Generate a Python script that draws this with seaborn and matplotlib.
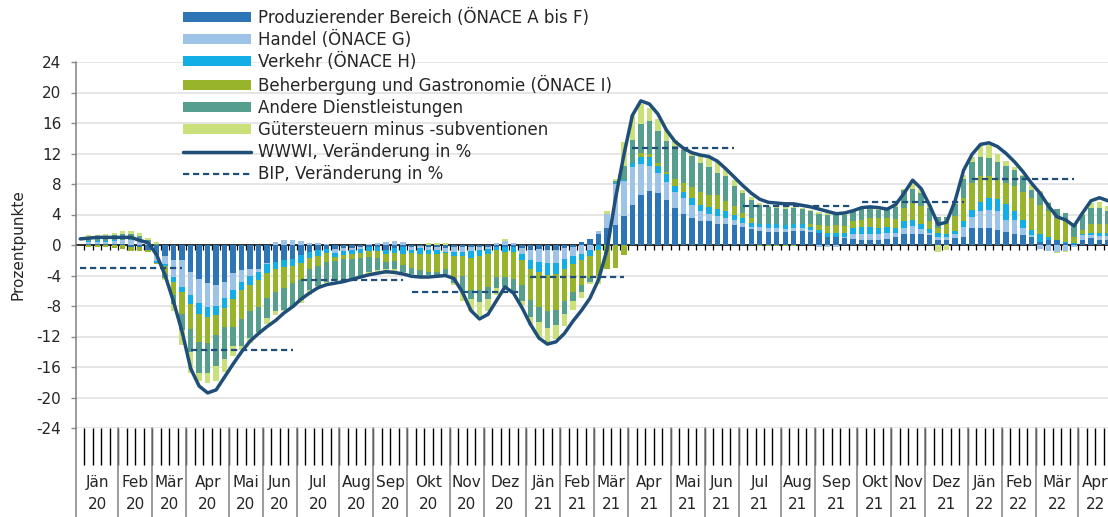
import numpy as np
import pandas as pd
import seaborn as sns
import matplotlib.pyplot as plt
from matplotlib.patches import Patch
from matplotlib.lines import Line2D
import matplotlib.transforms as mtransforms

# ---------------------------------------------------------
# Daten: Wochenwerte (Jän 2020 - Apr 2022), Beiträge in Prozentpunkten
# ---------------------------------------------------------
first_week = '2020-01-02'   # Donnerstag der 1. KW 2020
n_weeks = 122
month_names = ['Jän', 'Feb', 'Mär', 'Apr', 'Mai', 'Jun',
               'Jul', 'Aug', 'Sep', 'Okt', 'Nov', 'Dez']

prod = [0, 0.1, 0.1, 0.1, 0.15, 0.1, -0.2, -0.3, -0.6, -1.3,
        -1.5, -2.0, -2.0, -3.5, -4.4, -5.0, -5.2, -4.8, -3.7, -3.3,
        -3.1, -3.1, -2.4, -2.2, -2.0, -1.8, -1.3, -0.9, -0.7, -0.5,
        -0.5, -0.4, -0.4, -0.3, -0.3, -0.2, -0.6, -0.4, -0.3, -0.2,
        -0.1, -0.2, -0.3, -0.4, -0.3, -0.2, -0.3, -0.2, -0.2, -0.2,
        -0.3, -0.3, -0.4, -0.6, -0.5, -0.6, -0.6, -0.4, -0.2, 0.4,
        0.8, 1.5, 2.2, 2.6, 3.8, 5.2, 6.6, 7.1, 6.8, 5.9,
        4.9, 4.1, 3.5, 3.1, 3.1, 2.8, 2.7, 2.6, 2.4, 2.1,
        1.9, 1.7, 1.7, 1.7, 1.8, 1.9, 1.7, 1.6, 1.1, 1.0,
        0.9, 0.8, 0.7, 0.7, 0.7, 0.8, 1.0, 1.4, 1.4, 1.4,
        1.3, 0.7, 0.6, 0.9, 1.1, 2.2, 2.2, 2.2, 2.0, 1.7,
        1.5, 1.3, 1.1, 0.4, 0.7, 0.6, 0.3, 0.1, 0.7, 0.9,
        0.7, 0.7]

handel = [0, 0.3, 0.3, 0.35, 0.4, 0.5, 0.6, 0.5, 0.4, -0.8,
          -1.0, -2.2, -3.5, -3.1, -3.2, -3.1, -2.8, -2.2, -2.2, -1.5,
          -1.0, -0.4, -0.1, 0.4, 0.6, 0.6, 0.5, 0.3, 0.2, 0.1,
          -0.5, -0.4, -0.3, -0.2, 0.1, 0.3, 0.4, 0.5, 0.4, -0.4,
          -0.3, -0.4, -0.4, -0.5, -0.6, -0.7, -0.5, -0.4, -0.3, 0.3,
          0.5, 0.3, -0.8, -1.4, -1.7, -1.8, -1.8, -1.5, -1.3, -1.2,
          -0.6, 0.3, 1.9, 5.4, 4.6, 5.0, 4.0, 3.2, 2.6, 2.4,
          2.0, 2.0, 1.7, 1.3, 1.0, 1.0, 0.8, 0.7, 0.5, 0.3,
          0.5, 0.5, 0.5, 0.4, 0.4, 0.3, 0.3, -0.2, -0.2, -0.3,
          0.2, 0.7, 0.8, 0.8, 0.7, 0.8, 0.6, 0.8, 1.1, 0.7,
          0.3, 0.4, 0.4, 0.5, 1.2, 1.5, 2.2, 2.4, 2.4, 1.6,
          1.8, 0.9, 0.2, -0.5, -0.8, -0.9, -0.8, -0.2, 0.6, 0.4,
          0.5, 0.5]

verkehr = [0, 0.1, 0.1, 0.1, 0.1, 0.1, 0.1, 0.1, -0.1, -0.2,
           -0.3, -0.6, -0.6, -1.1, -1.4, -1.3, -1.2, -1.3, -1.2, -1.1,
           -1.1, -1.1, -1.2, -1.0, -0.9, -1.0, -1.1, -0.8, -0.7, -0.6,
           -0.6, -0.5, -0.5, -0.5, -0.5, -0.6, -0.6, -0.6, -0.9, -0.5,
           -0.8, -0.6, -0.5, -0.2, -0.6, -0.6, -0.9, -0.8, -0.7, -0.5,
           -0.6, -0.6, -0.8, -1.1, -1.3, -1.5, -1.4, -1.2, -1.0, -0.8,
           -0.9, -0.6, 0.0, 0.1, 0.1, 0.5, 0.9, 1.2, 1.0, 1.0,
           0.9, 0.9, 1.0, 0.8, 0.9, 0.9, 0.9, 0.6, 0.7, 0.5,
           0.4, 0.6, 0.5, 0.5, 0.5, 0.5, 0.4, 0.4, 0.5, 0.6,
           0.5, 0.7, 0.9, 0.9, 0.8, 0.7, 0.6, 0.9, 0.8, 0.7,
           0.5, 0.5, 0.5, 0.4, 0.8, 0.9, 1.3, 1.6, 1.6, 2.1,
           1.1, 1.1, 0.7, 1.0, 0.4, 0.1, 0.1, 0.1, 0.2, 0.3,
           0.4, 0.4]

beherbergung = [0, -0.3, -0.3, -0.3, -0.4, -0.5, -0.6, -0.5, -0.2, -0.2,
                -1.0, -1.8, -2.9, -3.3, -3.7, -3.4, -2.6, -2.4, -3.6, -3.8,
                -3.5, -3.5, -3.3, -2.9, -2.8, -2.2, -2.2, -1.5, -1.4, -1.1,
                -0.5, -0.6, -0.6, -0.7, -0.8, -0.9, -1.0, -1.1, -1.4, -1.9,
                -2.1, -2.3, -2.3, -2.1, -3.0, -2.6, -4.2, -4.5, -4.3, -3.5,
                -3.3, -3.5, -3.3, -4.1, -4.6, -4.8, -4.7, -4.2, -3.6, -3.2,
                -2.8, -3.5, -3.1, -3.0, -1.3, 0.1, 0.6, 0.5, 0.3, 0.3,
                0.9, 1.1, 1.4, 1.8, 1.6, 1.9, 1.4, 1.2, 0.6, 0.6,
                -0.1, -0.1, -0.1, -0.1, -0.1, 0.0, 0.4, 0.6, 0.9, 1.0,
                0.9, 1.0, 0.9, 1.1, 1.4, 1.2, 1.2, 1.7, 2.2, 2.3,
                1.0, 0.6, 1.8, 2.0, 3.0, 3.5, 3.3, 2.8, 2.5, 2.7,
                3.3, 3.7, 4.1, 3.8, 3.4, 2.8, 3.0, 0.8, 0.5, 1.2,
                1.2, 1.1]

andere = [0, 0.5, 0.5, 0.55, 0.6, 0.7, 0.8, 0.6, 0.2, 0.1,
          -0.5, -1.2, -2.1, -3.0, -4.1, -4.0, -4.1, -4.3, -2.6, -3.6,
          -3.5, -3.3, -2.6, -2.6, -2.8, -3.1, -2.6, -2.7, -2.6, -2.6,
          -2.5, -2.5, -2.5, -2.3, -2.0, -1.6, -1.0, -1.0, -1.0, -0.8,
          -0.7, -0.4, -0.4, -0.6, -0.5, -2.0, -1.2, -1.6, -1.6, -1.4,
          -1.3, -1.6, -2.0, -2.2, -2.0, -2.2, -2.0, -1.7, -1.3, -1.0,
          -0.5, 0.0, 0.0, 0.3, 1.9, 3.0, 3.8, 4.2, 4.2, 4.0,
          4.3, 4.3, 4.1, 3.7, 3.6, 2.8, 3.2, 2.6, 2.6, 2.4,
          2.4, 2.2, 2.1, 2.1, 2.1, 2.0, 1.6, 1.5, 1.5, 1.3,
          1.4, 1.2, 1.5, 1.3, 1.0, 1.2, 1.6, 2.4, 1.9, 1.7,
          1.8, 1.5, 0.4, 1.6, 2.6, 2.8, 2.6, 2.4, 2.4, 2.2,
          2.1, 2.0, 1.1, 1.6, 1.0, 1.2, 0.8, 1.6, 2.0, 2.0,
          2.0, 1.8]

guter = [0, 0.3, 0.35, 0.35, 0.35, 0.4, 0.4, 0.4, 0.3, 0.35,
         -0.3, -0.8, -2.0, -2.8, -1.1, -1.3, -2.0, -1.6, -1.3, -0.5,
         -0.7, -0.4, -0.7, -0.5, -0.2, -0.2, -0.4, -0.7, -0.1, -0.2,
         -0.1, -0.1, -0.1, -0.1, -0.2, -0.4, -0.6, -0.5, -0.3, -0.1,
         0.0, 0.3, 0.3, 0.2, -0.2, -1.2, -1.5, -1.8, -1.6, -0.9,
         0.3, -0.3, -0.6, -1.1, -1.9, -2.0, -1.8, -1.6, -1.1, -0.8,
         -0.3, -1.0, 0.3, 0.3, 3.1, 3.2, 2.6, 1.8, 1.6, 1.5,
         0.8, 0.5, 0.5, 1.1, 1.2, 1.5, 1.0, 0.8, 0.4, 0.4,
         0.3, 0.1, 0.2, 0.3, 0.2, 0.2, 0.2, 0.2, 0.2, 0.2,
         0.3, 0.2, 0.2, 0.1, 0.3, 0.2, 0.3, 0.2, 1.1, 0.6,
         0.3, -0.9, -0.7, 0.4, 0.5, 0.7, 1.5, 1.7, 1.1, 0.7,
         0.4, 0.2, 0.7, 0.3, 0.2, -0.2, -0.1, 0.2, 0.2, 0.7,
         0.9, 0.6]

wwwi = [0.8, 0.9, 1.0, 1.0, 1.0, 1.0, 1.0, 0.6, 0.3, -1.3,
        -4.0, -7.5, -11.4, -16.2, -18.5, -19.4, -19.0, -17.3, -15.6, -14.0,
        -12.6, -11.6, -10.7, -9.9, -8.9, -8.1, -7.1, -6.3, -5.6, -5.2,
        -5.0, -4.8, -4.5, -4.2, -3.9, -3.7, -3.5, -3.6, -3.8, -4.1,
        -4.2, -4.2, -4.1, -4.0, -4.4, -6.2, -8.6, -9.7, -9.1, -7.3,
        -5.5, -6.3, -8.2, -10.4, -12.2, -13.0, -12.7, -11.6, -10.0, -8.6,
        -7.0, -4.6, -0.7, 6.0, 11.8, 17.0, 18.9, 18.5, 17.2, 15.1,
        13.6, 12.7, 12.1, 11.8, 11.6, 11.0, 10.0, 8.9, 7.8, 6.8,
        6.0, 5.6, 5.5, 5.4, 5.4, 5.2, 5.0, 4.7, 4.4, 4.1,
        4.2, 4.5, 4.9, 5.0, 4.9, 4.7, 5.3, 6.8, 8.5, 7.4,
        5.2, 2.7, 3.0, 5.8, 9.8, 11.9, 13.2, 13.4, 12.9, 12.0,
        10.9, 9.6, 8.1, 6.8, 5.1, 3.7, 3.3, 2.5, 4.2, 5.8,
        6.2, 5.8]

bip_quarters = ['2020Q1', '2020Q2', '2020Q3', '2020Q4', '2021Q1',
                '2021Q2', '2021Q3', '2021Q4', '2022Q1']
bip_values = [-3.0, -13.8, -4.6, -6.1, -4.2, 12.7, 5.1, 5.6, 8.7]

series_names = ['Produzierender Bereich (ÖNACE A bis F)', 'Handel (ÖNACE G)',
                'Verkehr (ÖNACE H)', 'Beherbergung und Gastronomie (ÖNACE I)',
                'Andere Dienstleistungen', 'Gütersteuern minus -subventionen']
series_colors = ['#2E75B6', '#9DC3E6', '#13AEE6', '#97B42B', '#569E8D', '#C9E07B']
line_color = '#1F4E79'

# ---------------------------------------------------------
# Aufbereitung
# ---------------------------------------------------------
weeks = pd.date_range(first_week, periods=n_weeks, freq='7D')
idx = np.arange(n_weeks)
df = pd.DataFrame({'idx': idx, 'date': weeks, 'wwwi': wwwi})
df['quarter'] = weeks.to_period('Q').astype(str)
df['bip'] = df['quarter'].map(dict(zip(bip_quarters, bip_values)))
components = np.array([prod, handel, verkehr, beherbergung, andere, guter])

# ---------------------------------------------------------
# Grafik
# ---------------------------------------------------------
sns.set_style('white')
plt.rcParams['font.family'] = ['DejaVu Sans']
plt.rcParams['axes.unicode_minus'] = False
text_color = '#262626'

W, H = 1108, 517
fig = plt.figure(figsize=(W / 100, H / 100), dpi=100)
ax = fig.add_axes([76 / W, 1 - 428 / H, 1032 / W, 366 / H])

ax.set_ylim(-24, 24)
ax.set_xlim(-0.5, 121.0)
ax.set_yticks(np.arange(-24, 25, 4))
ax.yaxis.grid(True, color='#E6E6E6', linewidth=1.4, zorder=0)
ax.set_axisbelow(True)
for s in ax.spines.values():
    s.set_visible(False)
ax.tick_params(axis='y', length=3.6, width=1, color='#8C8C8C', pad=7,
               labelsize=11, labelcolor=text_color, left=True)
ax.set_xticks([])

# gestapelte Balken (positive und negative Anteile getrennt)
pos_bottom = np.zeros(n_weeks)
neg_bottom = np.zeros(n_weeks)
for vals, color in zip(components, series_colors):
    bottom = np.where(vals >= 0, pos_bottom, neg_bottom)
    ax.bar(idx, vals, bottom=bottom, width=0.64, color=color, linewidth=0, zorder=3)
    pos_bottom = pos_bottom + np.clip(vals, 0, None)
    neg_bottom = neg_bottom + np.clip(vals, None, 0)

# Nulllinie mit Wochen-Teilstrichen
ax.axhline(0, color='black', linewidth=1.1, zorder=2)
ax.vlines(idx[1:] - 0.5, -0.65, 0, color='black', linewidth=0.9, zorder=2)

# WWWI und BIP
sns.lineplot(data=df, x='idx', y='wwwi', color=line_color, linewidth=2.5,
             legend=False, ax=ax, zorder=5)
sns.lineplot(data=df.dropna(subset=['bip']), x='idx', y='bip', units='quarter',
             estimator=None, color=line_color, linewidth=1.6,
             linestyle=(0, (2.8, 1.7)), legend=False, ax=ax, zorder=6)
ax.set_xlabel('')
ax.set_ylabel('')
ax.set_xlim(-0.5, 121.0)

# Kategorienachse (Wochen / Monate) unterhalb der Zeichenfläche
trans = mtransforms.blended_transform_factory(ax.transData, ax.transAxes)
px = 1 / 366
ax.vlines(idx[1:] - 0.5, -37 * px, 0, transform=trans, color='black',
          linewidth=1, clip_on=False)
df['ym'] = df['date'].dt.year * 100 + df['date'].dt.month
for ym, g in df.groupby('ym'):
    start, end = g['idx'].min(), g['idx'].max()
    ax.plot([start - 0.5, start - 0.5], [0, -0.26], transform=trans,
            color='#808080', linewidth=1.1, clip_on=False, zorder=4)
    mid = (start + end) / 2
    if mid > 121.0:
        continue
    ax.text(mid, -0.150, month_names[ym % 100 - 1], transform=trans,
            ha='center', va='center', fontsize=11, color=text_color, clip_on=False)
    ax.text(mid, -0.210, str(ym // 100)[2:], transform=trans,
            ha='center', va='center', fontsize=11, color=text_color, clip_on=False)
ax.plot([-0.5, -0.5], [0, 1], transform=trans, color='#808080', linewidth=1.1,
        clip_on=False)

fig.text(18 / W, 1 - 245 / H, 'Prozentpunkte', rotation=90, ha='center',
         va='center', fontsize=11, color=text_color)

# Legende
handles = [Patch(facecolor=c, edgecolor='none') for c in series_colors]
handles += [Line2D([], [], color=line_color, linewidth=2.5),
            Line2D([], [], color=line_color, linewidth=1.6, linestyle=(0, (2.8, 1.7)))]
labels = series_names + ['WWWI, Veränderung in %', 'BIP, Veränderung in %']
fig.legend(handles, labels, loc='upper left', bbox_to_anchor=(183 / W, 1 - 9 / H),
           bbox_transform=fig.transFigure, frameon=False, fontsize=12,
           handlelength=4.07, handleheight=0.56, handletextpad=0.42,
           labelspacing=0.24, borderpad=0, borderaxespad=0, labelcolor=text_color)

fig.savefig('out.png', dpi=100)
